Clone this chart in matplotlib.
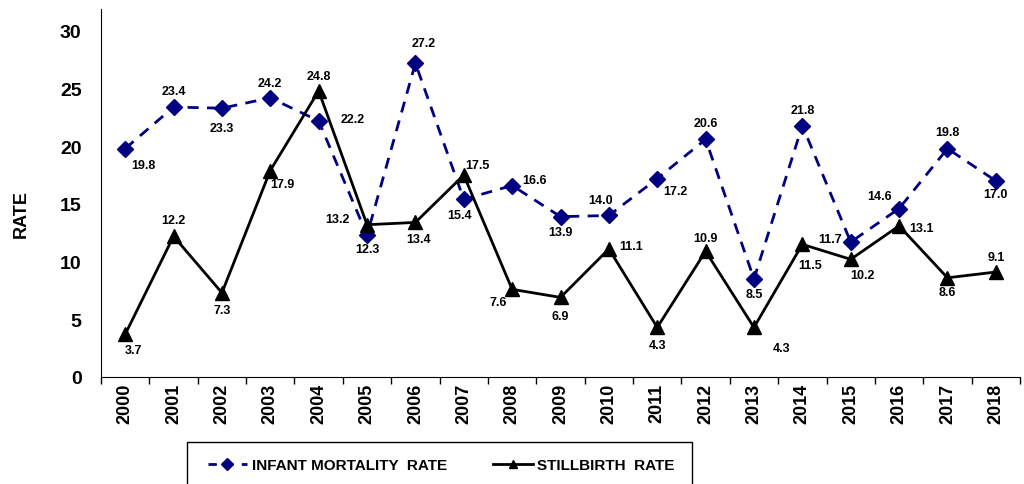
import matplotlib.pyplot as plt
from matplotlib.patches import Rectangle
from matplotlib.lines import Line2D

years = [str(y) for y in range(2000, 2019)]
infant_rate = [19.8, 23.4, 23.3, 24.2, 22.2, 12.3, 27.2, 15.4, 16.6, 13.9,
               14.0, 17.2, 20.6, 8.5, 21.8, 11.7, 14.6, 19.8, 17.0]
stillbirth_rate = [3.7, 12.2, 7.3, 17.9, 24.8, 13.2, 13.4, 17.5, 7.6, 6.9,
                   11.1, 4.3, 10.9, 4.3, 11.5, 10.2, 13.1, 8.6, 9.1]

# label offsets in pixels (dx, dy) with dy positive = up
infant_offsets = [(18, -16), (0, 16), (0, -20), (0, 15), (34, 2), (0, -14), (8, 20),
                  (-4, -16), (22, 6), (0, -15), (-8, 15), (18, -12), (0, 16),
                  (0, -15), (0, 16), (-21, 3), (-20, 13), (0, 17), (0, -13)]
still_offsets = [(8, -16), (0, 16), (0, -17), (12, -13), (0, 15), (-30, 6), (3, -17),
                 (14, 10), (-14, -13), (0, -19), (22, 3), (0, -18), (0, 13),
                 (28, -21), (8, -21), (12, -16), (22, -2), (0, -14), (0, 15)]

plt.rcParams['font.family'] = ['Liberation Sans', 'DejaVu Sans']
plt.rcParams['font.weight'] = 'bold'

fig = plt.figure(figsize=(10.24, 4.85), dpi=100)
ax = fig.add_axes([101/1024, 1-378/485, 919/1024, 368/485])

x = list(range(len(years)))
navy = '#000080'
ax.plot(x, infant_rate, color=navy, lw=2, dashes=(4, 3), marker='D', ms=8.5,
        mfc=navy, mec=navy, zorder=3)
ax.plot(x, stillbirth_rate, color='black', lw=2, marker='^', ms=10,
        mfc='black', mec='black', zorder=3)

for xi, v, off in zip(x, infant_rate, infant_offsets):
    ax.annotate(f"{v:.1f}", (xi, v), xytext=off, textcoords='offset pixels',
                ha='center', va='center', fontsize=9, fontweight='bold')
for xi, v, off in zip(x, stillbirth_rate, still_offsets):
    ax.annotate(f"{v:.1f}", (xi, v), xytext=off, textcoords='offset pixels',
                ha='center', va='center', fontsize=9, fontweight='bold')

ax.set_xlim(-0.48, 18.45)
ax.set_ylim(0, 31.9)
ax.set_yticks([0, 5, 10, 15, 20, 25, 30])
ax.set_xticks(x)
ax.set_xticklabels(years, rotation=90, fontsize=13, fontweight='bold')
ax.set_xticks([i + 0.5 for i in range(-1, 19)], minor=True)
ax.tick_params(axis='x', which='major', length=0, pad=4)
ax.tick_params(axis='x', which='minor', length=5, direction='out', width=1)
ax.tick_params(axis='y', length=0, labelsize=14, pad=14)
for t in ax.get_yticklabels():
    t.set_fontweight('bold')
ax.spines['top'].set_visible(False)
ax.spines['right'].set_visible(False)
ax.set_ylabel('RATE', fontsize=13, fontweight='bold')
ax.yaxis.set_label_coords(-0.078, 0.446)

# legend box (runs past the bottom edge)
fig.patches.append(Rectangle((187/1024, -0.05), 505/1024, 1-443/485+0.05,
                             transform=fig.transFigure, fill=False,
                             edgecolor='black', lw=1))
handles = [Line2D([], [], color=navy, lw=2, dashes=(3, 3), marker='D', ms=6),
           Line2D([], [], color='black', lw=2, marker='^', ms=6)]
fig.legend(handles, ['INFANT MORTALITY  RATE', 'STILLBIRTH  RATE'],
           loc='center', bbox_to_anchor=(441/1024, 1-466/485), ncol=2,
           frameon=False, handlelength=2.6, handletextpad=0.3, columnspacing=3,
           prop={'family': ['Liberation Sans Narrow', 'Liberation Sans'],
                 'weight': 'bold', 'size': 11})

fig.savefig('out.png', dpi=100)
